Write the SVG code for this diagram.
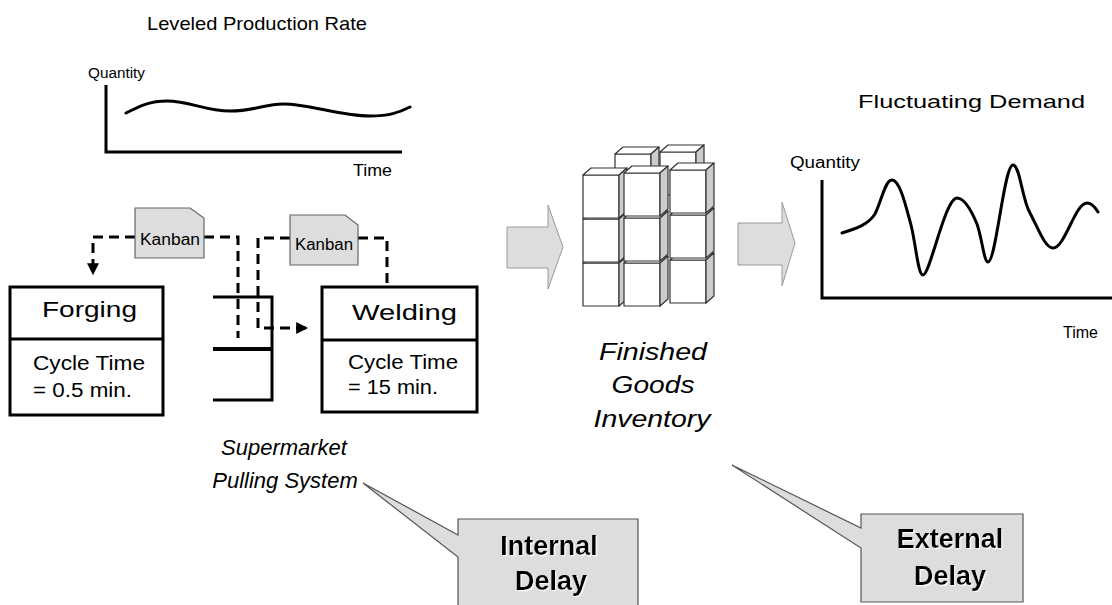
<svg xmlns="http://www.w3.org/2000/svg" width="1112" height="605" viewBox="0 0 1112 605">
  <style>
    text { font-family: "Liberation Sans", Arial, sans-serif; fill: #000; }
    .axis { fill: none; stroke: #000; stroke-width: 3; }
    .curve { fill: none; stroke: #000; stroke-width: 3; stroke-linecap: round; stroke-linejoin: round; }
    .box { fill: #fff; stroke: #000; stroke-width: 3; }
    .shelf { fill: none; stroke: #000; stroke-width: 3; }
    .dash { fill: none; stroke: #000; stroke-width: 3; stroke-dasharray: 10 6; }
    .card { fill: #ddd; stroke: #666; stroke-width: 1.2; }
    .bigarrow { fill: #ddd; stroke: #999; stroke-width: 1; }
    .callout { fill: #ddd; stroke: #555; stroke-width: 1.2; }
    .face { stroke: #333; stroke-width: 1.2; stroke-linejoin: round; }
    .ital { font-style: italic; }
    .bold { font-weight: bold; font-size: 27px; filter: url(#glow); }
  </style>
  <defs>
    <marker id="tip" viewBox="0 0 10 10" refX="9" refY="5" markerWidth="4" markerHeight="4" orient="auto" markerUnits="strokeWidth">
      <path d="M0,0 L10,5 L0,10 Z" fill="#000"/>
    </marker>
    <filter id="glow" x="-10%" y="-20%" width="120%" height="140%">
      <feDropShadow dx="1.2" dy="1.2" stdDeviation="0.4" flood-color="#fff" flood-opacity="0.9"/>
    </filter>
    <g id="cube">
      <rect class="face" x="0" y="0" width="36" height="43" fill="#fff"/>
      <polygon class="face" points="0,0 8,-7 44,-7 36,0" fill="#fff"/>
      <polygon class="face" points="36,0 44,-7 44,36 36,43" fill="#ccc"/>
    </g>
  </defs>

  <!-- leveled production chart -->
  <g id="production-chart">
    <text x="147" y="30" font-size="19" textLength="220" lengthAdjust="spacingAndGlyphs">Leveled Production Rate</text>
    <text x="88" y="78" font-size="14" textLength="57" lengthAdjust="spacingAndGlyphs">Quantity</text>
    <path class="axis" d="M106,85 V152 H402"/>
    <path class="curve" d="M126,113 C140,106 150,101 167,101 C190,101 205,111 230,111 C255,111 265,104 283,104 C310,104 340,116 370,116 C390,116 400,112 410,107"/>
    <text x="353" y="176" font-size="17" textLength="39" lengthAdjust="spacingAndGlyphs">Time</text>
  </g>

  <!-- process boxes -->
  <g id="forging">
    <rect class="box" x="10" y="287" width="153" height="128"/>
    <line class="box" x1="10" y1="339" x2="163" y2="339"/>
    <text x="42" y="317" font-size="22" textLength="95" lengthAdjust="spacingAndGlyphs">Forging</text>
    <text x="33" y="370" font-size="20" textLength="112" lengthAdjust="spacingAndGlyphs">Cycle Time</text>
    <text x="33" y="397" font-size="20" textLength="99" lengthAdjust="spacingAndGlyphs">= 0.5 min.</text>
  </g>

  <g id="supermarket">
    <path class="shelf" d="M213,297 H272 V400 H213"/>
    <line x1="213" y1="349" x2="272" y2="349" stroke="#000" stroke-width="4"/>
  </g>

  <g id="welding">
    <rect class="box" x="322" y="287" width="155" height="125"/>
    <line class="box" x1="322" y1="340" x2="477" y2="340"/>
    <text x="352" y="320" font-size="22" textLength="105" lengthAdjust="spacingAndGlyphs">Welding</text>
    <text x="348" y="369" font-size="20" textLength="110" lengthAdjust="spacingAndGlyphs">Cycle Time</text>
    <text x="348" y="394" font-size="20" textLength="90" lengthAdjust="spacingAndGlyphs">= 15 min.</text>
  </g>

  <!-- kanban loops -->
  <g id="connectors">
    <path class="dash" d="M135,237 H93 V274" marker-end="url(#tip)"/>
    <path class="dash" d="M204,237 H238 V338"/>
    <path class="dash" d="M387,283 V238 H358"/>
    <path class="dash" d="M290,238 H258 V328 H307" marker-end="url(#tip)"/>
  </g>

  <g id="kanban-1">
    <path class="card" d="M135,208 H190 L204,218 V258 H135 Z"/>
    <text x="140" y="245" font-size="16" textLength="60" lengthAdjust="spacingAndGlyphs">Kanban</text>
  </g>
  <g id="kanban-2">
    <path class="card" d="M290,215 H345 L358,225 V265 H290 Z"/>
    <text x="295" y="250" font-size="16" textLength="58" lengthAdjust="spacingAndGlyphs">Kanban</text>
  </g>

  <g id="supermarket-label">
    <text class="ital" x="284" y="455" font-size="22" text-anchor="middle">Supermarket</text>
    <text class="ital" x="285" y="488" font-size="22" text-anchor="middle">Pulling System</text>
  </g>

  <!-- flow arrows -->
  <g id="arrow-to-inventory">
    <path class="bigarrow" d="M507,227 H548 V205 L563,247 L548,289 V268 H507 Z"/>
  </g>
  <g id="arrow-to-demand">
    <path class="bigarrow" d="M738,223 H782 V202 L795,243 L782,286 V265 H738 Z"/>
  </g>

  <!-- finished goods stack -->
  <g id="inventory">
    <use href="#cube" x="615" y="154"/>
    <use href="#cube" x="660" y="152"/>
    <use href="#cube" x="583" y="263"/>
    <use href="#cube" x="583" y="219"/>
    <use href="#cube" x="583" y="175"/>
    <use href="#cube" x="624" y="263"/>
    <use href="#cube" x="624" y="218"/>
    <use href="#cube" x="624" y="173"/>
    <use href="#cube" x="670" y="260"/>
    <use href="#cube" x="670" y="215"/>
    <use href="#cube" x="670" y="170"/>
    <text class="ital" x="653" y="360" font-size="23" text-anchor="middle" textLength="108" lengthAdjust="spacingAndGlyphs">Finished</text>
    <text class="ital" x="653" y="393" font-size="23" text-anchor="middle" textLength="83" lengthAdjust="spacingAndGlyphs">Goods</text>
    <text class="ital" x="652" y="427" font-size="23" text-anchor="middle" textLength="117" lengthAdjust="spacingAndGlyphs">Inventory</text>
  </g>

  <!-- fluctuating demand chart -->
  <g id="demand-chart">
    <text x="858" y="108" font-size="19" textLength="227" lengthAdjust="spacingAndGlyphs">Fluctuating Demand</text>
    <text x="790" y="168" font-size="16" textLength="70" lengthAdjust="spacingAndGlyphs">Quantity</text>
    <path class="axis" d="M822,180 V298 H1114"/>
    <path class="curve" d="M842,233 C855,229 868,225 875,214 C882,200 885,180 892,180 C900,180 906,207 911,225 C916,245 918,275 923,275 C930,275 945,198 957,198 C965,198 972,212 977,224 C982,238 984,262 988,262 C996,262 1004,165 1013,165 C1020,165 1022,200 1030,213 C1038,228 1045,248 1053,248 C1065,248 1075,203 1087,203 C1092,203 1095,207 1098,212"/>
    <text x="1063" y="338" font-size="17" textLength="35" lengthAdjust="spacingAndGlyphs">Time</text>
  </g>

  <!-- delay callouts -->
  <g id="internal-delay">
    <path class="callout" d="M458,519 H638 V612 H458 V557 L363,483 L458,535 Z"/>
    <text class="bold" x="549" y="555" text-anchor="middle">Internal</text>
    <text class="bold" x="551" y="590" text-anchor="middle">Delay</text>
  </g>
  <g id="external-delay">
    <path class="callout" d="M861,514 H1023 V602 H861 V548 L732,465 L861,528 Z"/>
    <text class="bold" x="950" y="548" text-anchor="middle">External</text>
    <text class="bold" x="950" y="585" text-anchor="middle">Delay</text>
  </g>
</svg>
